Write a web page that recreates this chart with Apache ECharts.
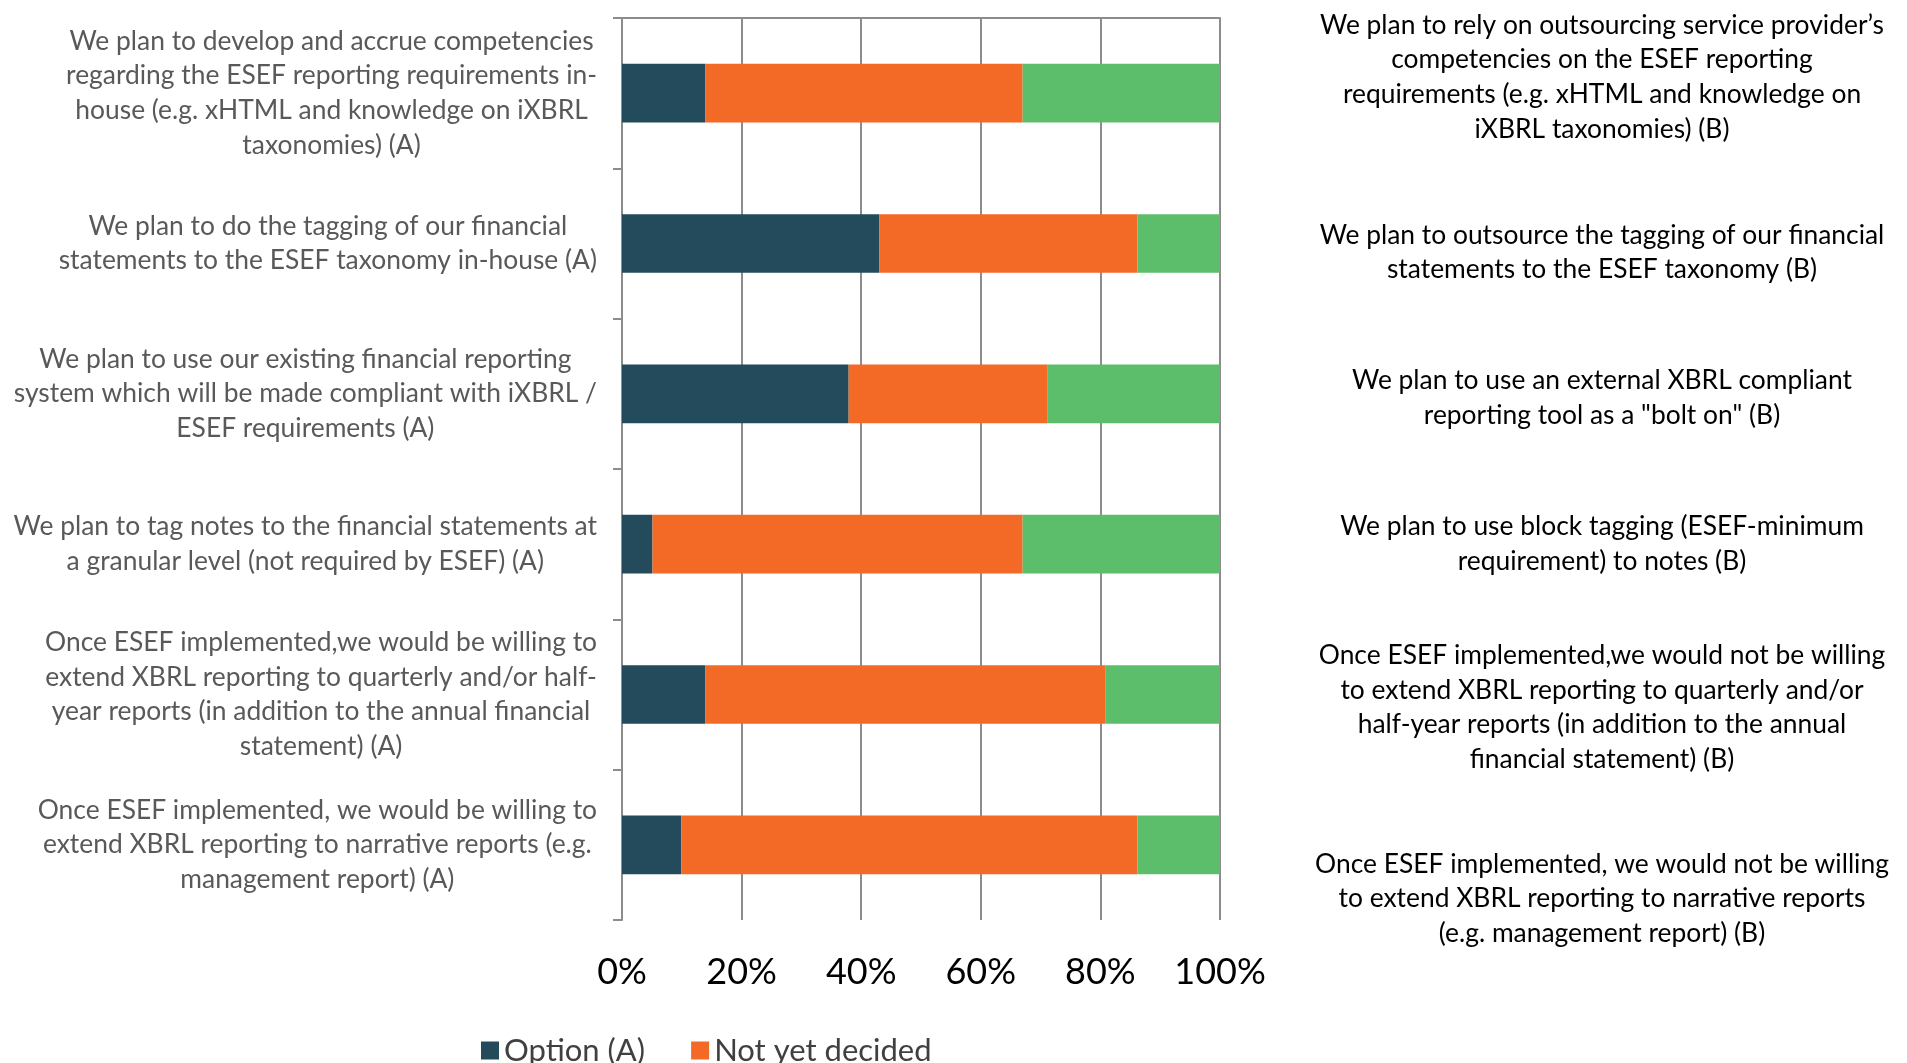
<!DOCTYPE html>
<html>
<head>
<meta charset="utf-8">
<script src="https://cdn.jsdelivr.net/npm/echarts@6/dist/echarts.min.js"></script>
<style>
html,body{margin:0;padding:0;background:#fff;}
#chart{width:1907px;height:1063px;}
</style>
</head>
<body>
<div id="chart"></div>
<script>
const leftLabels = [
  "We plan to develop and accrue competencies\nregarding the ESEF reporting requirements in-\nhouse (e.g. xHTML and knowledge on iXBRL\ntaxonomies) (A)",
  "We plan to do the tagging of our financial\nstatements to the ESEF taxonomy in-house (A)",
  "We plan to use our existing financial reporting\nsystem which will be made compliant with iXBRL /\nESEF requirements (A)",
  "We plan to tag notes to the financial statements at\na granular level (not required by ESEF) (A)",
  "Once ESEF implemented,we would be willing to\nextend XBRL reporting to quarterly and/or half-\nyear reports (in addition to the annual financial\nstatement) (A)",
  "Once ESEF implemented, we would be willing to\nextend XBRL reporting to narrative reports (e.g.\nmanagement report) (A)"
];
const rightLabels = [
  "We plan to rely on outsourcing service provider\u2019s\ncompetencies on the ESEF reporting\nrequirements (e.g. xHTML and knowledge on\niXBRL taxonomies) (B)",
  "We plan to outsource the tagging of our financial\nstatements to the ESEF taxonomy (B)",
  "We plan to use an external XBRL compliant\nreporting tool as a \"bolt on\" (B)",
  "We plan to use block tagging (ESEF-minimum\nrequirement) to notes (B)",
  "Once ESEF implemented,we would not be willing\nto extend XBRL reporting to quarterly and/or\nhalf-year reports (in addition to the annual\nfinancial statement) (B)",
  "Once ESEF implemented, we would not be willing\nto extend XBRL reporting to narrative reports\n(e.g. management report) (B)"
];
const seriesNames = ["Option (A)", "Not yet decided", "Option (B)"];
const optionA = [13.9, 43.0, 37.9, 5.1, 13.9, 9.9];
const notYetDecided = [53.1, 43.2, 33.2, 61.9, 66.9, 76.3];
const optionB = [33.0, 13.8, 28.9, 33.0, 19.2, 13.8];
const xTicks = [0, 20, 40, 60, 80, 100];

const FONT = 'Lato';
const LABEL_SIZE = 26.4;
const LINE_H = 34.6;

// vertical layout nudges for the right-hand text (px, + = down)
const rightNudge = [-16, 9, 4, 0, 13, 54];
const rightRich = {};
rightNudge.forEach((d, i) => {
  if (d !== 0) rightRich['g' + i] = { lineHeight: Math.abs(d) * 2, fontSize: 2 };
});
rightRich.t = { fontSize: LABEL_SIZE, lineHeight: LINE_H, color: '#000000', fontFamily: FONT, align: 'center' };

function wrapLines(text, style) {
  return text.split('\n').map(l => '{' + style + '|' + l + '}').join('\n');
}

const chart = echarts.init(document.getElementById('chart'));
const colors = ['#234B5B', '#F26A25', '#5CBD6B'];
const values = [optionA, notYetDecided, optionB];

chart.setOption({
  animation: false,
  backgroundColor: '#ffffff',
  color: colors,
  textStyle: { fontFamily: FONT },
  grid: { left: 622, right: 687, top: 18, bottom: 143, outerBoundsMode: 'none' },
  legend: {
    data: seriesNames.slice(0, 2),
    left: 481,
    top: 1035,
    padding: 0,
    itemWidth: 18,
    itemHeight: 18,
    itemGap: 46,
    icon: 'rect',
    textStyle: { fontFamily: FONT, fontSize: 31, color: '#404040' }
  },
  xAxis: [
    {
      type: 'value',
      min: xTicks[0],
      max: xTicks[xTicks.length - 1],
      interval: xTicks[1] - xTicks[0],
      position: 'bottom',
      axisLine: { show: false },
      axisTick: { show: false },
      axisLabel: { formatter: '{value}%', fontSize: 36, color: '#000', margin: 34, fontFamily: FONT },
      splitLine: { show: true, lineStyle: { color: '#8C8C8C', width: 2 } }
    },
    {
      type: 'value',
      min: xTicks[0],
      max: xTicks[xTicks.length - 1],
      position: 'top',
      axisLine: { show: true, lineStyle: { color: '#8C8C8C', width: 2 } },
      axisTick: { show: false },
      axisLabel: { show: false },
      splitLine: { show: false }
    }
  ],
  yAxis: [
    {
      type: 'category',
      data: leftLabels,
      inverse: true,
      position: 'left',
      axisLine: { show: true, lineStyle: { color: '#8C8C8C', width: 2 } },
      axisTick: { show: true, length: 9, lineStyle: { color: '#8C8C8C', width: 2 } },
      axisLabel: {
        interval: 0,
        align: 'right', margin: 25, fontSize: LABEL_SIZE, lineHeight: LINE_H,
        color: '#595959', fontFamily: FONT,
        formatter: v => wrapLines(v, 'c'),
        rich: {
          c: { fontSize: LABEL_SIZE, lineHeight: LINE_H, color: '#595959', fontFamily: FONT, align: 'center' }
        }
      }
    },
    {
      type: 'category',
      data: rightLabels,
      inverse: true,
      position: 'right',
      axisLine: { show: false },
      axisTick: { show: false },
      axisLabel: {
        interval: 0,
        align: 'center', margin: 382, fontSize: LABEL_SIZE, lineHeight: LINE_H,
        color: '#000000', fontFamily: FONT,
        formatter: (v, i) => {
          const d = rightNudge[i] || 0;
          let s = wrapLines(v, 't');
          if (d > 0) s = '{g' + i + '| }\n' + s;
          if (d < 0) s = s + '\n{g' + i + '| }';
          return s;
        },
        rich: rightRich
      }
    }
  ],
  series: seriesNames.map((name, i) => ({
    name: name,
    type: 'bar',
    stack: 'total',
    xAxisIndex: 0,
    yAxisIndex: 0,
    barWidth: '39%',
    data: values[i],
    itemStyle: { color: colors[i] }
  }))
});
</script>
</body>
</html>
